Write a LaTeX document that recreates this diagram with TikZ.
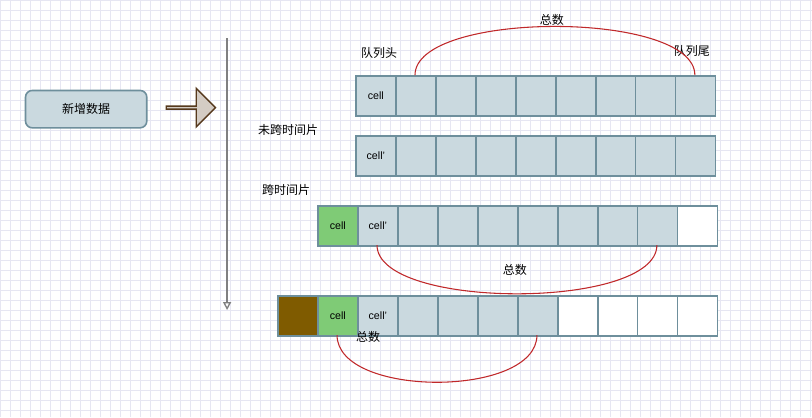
\documentclass[tikz,border=0pt]{standalone}
\usepackage{fontspec}
\setmainfont{Liberation Sans}
\newfontfamily\cjk{Noto Sans CJK SC}
\usetikzlibrary{shapes.arrows,arrows.meta}
\definecolor{cellfill}{HTML}{CAD9DF}
\definecolor{celldraw}{HTML}{6E8F9C}
\definecolor{grn}{HTML}{7FCB76}
\definecolor{brn}{HTML}{7F5B00}
\definecolor{arc}{HTML}{C0282A}
\definecolor{gridc}{HTML}{E6E6F2}
\tikzset{
  cellbox/.style={draw=celldraw,line width=1.2pt,fill=cellfill,minimum width=30pt,minimum height=30pt,inner sep=0pt,anchor=north west,font=\fontsize{8}{9}\selectfont},
  wbox/.style={cellbox,fill=white},
  gbox/.style={cellbox,fill=grn},
  bbox/.style={cellbox,fill=brn},
  lbl/.style={font=\cjk\fontsize{9}{10}\selectfont,inner sep=1pt},
  arcl/.style={draw=arc,line width=0.8pt}
}
\begin{document}
\begin{tikzpicture}[x=0.75pt,y=-0.75pt]
\fill[white] (0,0) rectangle (812,417);
\draw[gridc,line width=0.3pt] (0,0) grid[step=7.5pt] (812,417);
\useasboundingbox (0,0) rectangle (812,417);
% button
\node[draw=celldraw,line width=1.2pt,fill=cellfill,rounded corners=5pt,minimum width=91pt,minimum height=28pt,font=\cjk\fontsize{9}{10}\selectfont] (add) at (86,109) {新增数据};
\node[single arrow,draw=black!55!brown,fill=brown!30!gray!40,line width=1pt,minimum height=37pt,minimum width=29pt,single arrow head extend=6pt,inner sep=0pt] (fat) at (190,107.5) {};
% timeline
\coordinate (t0) at (227,38);
\coordinate (t1) at (227,310);
\draw[gray,line width=1pt,-{Triangle[open,length=6pt,width=6pt]}] (t0) -- (t1);
% row 1
\foreach \i in {0,...,8}{\node[cellbox] (a\i) at (355+40*\i,75) {\ifnum\i=0 cell\fi};}
% row 2
\foreach \i in {0,...,8}{\node[cellbox] (b\i) at (355+40*\i,135) {\ifnum\i=0 cell'\fi};}
% row 3
\node[gbox] (cg) at (317,205) {cell};
\foreach \i in {0,...,8}{\ifnum\i<8 \node[cellbox] (c\i) at (357+40*\i,205) {\ifnum\i=0 cell'\fi};\else \node[wbox] (c\i) at (357+40*\i,205) {};\fi}
% row 4
\node[bbox] (db) at (277,295) {};
\node[gbox] (dg) at (317,295) {cell};
\foreach \i in {0,...,8}{\ifnum\i<5 \node[cellbox] (d\i) at (357+40*\i,295) {\ifnum\i=0 cell'\fi};\else \node[wbox] (d\i) at (357+40*\i,295) {};\fi}
% labels
\node[lbl] (h) at (379,53) {队列头};
\node[lbl] (t) at (692,51) {队列尾};
\node[lbl] (s1) at (552,20) {总数};
\node[lbl] (l2) at (288,130) {未跨时间片};
\node[lbl] (l3) at (286,190) {跨时间片};
\node[lbl] (s3) at (515,270) {总数};
\node[lbl] (s4) at (368,337) {总数};
% arcs
\coordinate (p1) at (415,75); \coordinate (q1) at (695,75);
\draw[arcl] (p1) .. controls (415,10) and (695,10) .. (q1);
\coordinate (p3) at (377,245); \coordinate (q3) at (657,245);
\draw[arcl] (p3) .. controls (377,310) and (657,310) .. (q3);
\coordinate (p4) at (337,335); \coordinate (q4) at (537,335);
\draw[arcl] (p4) .. controls (337,398) and (537,398) .. (q4);
\end{tikzpicture}
\end{document}
